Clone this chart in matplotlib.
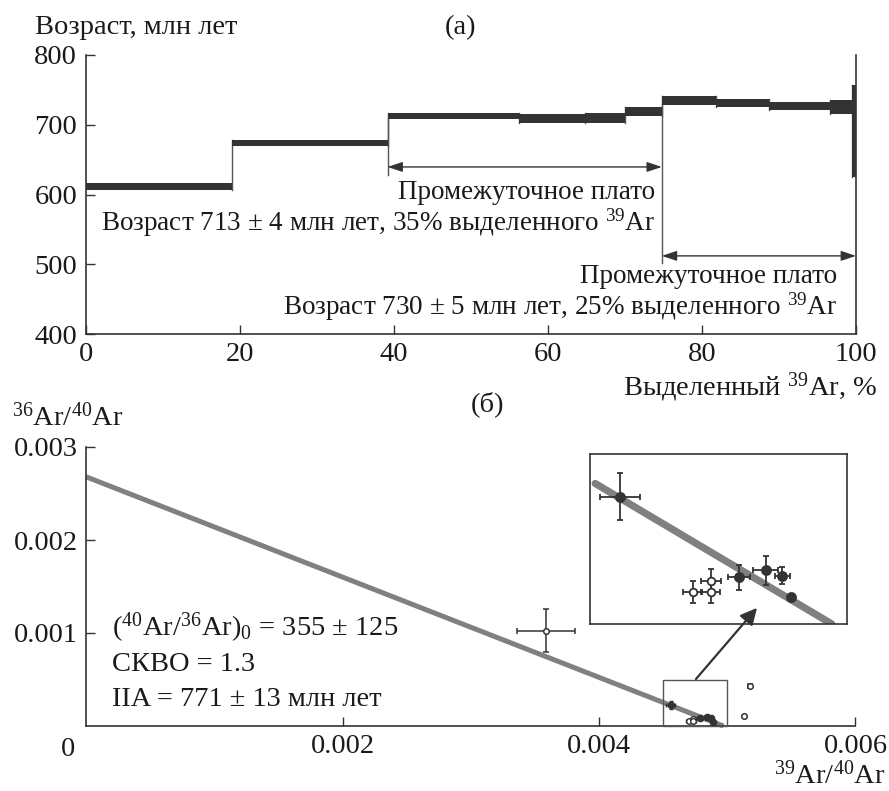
import numpy as np
import matplotlib
matplotlib.use('Agg')
import matplotlib.pyplot as plt
from matplotlib.patches import Rectangle

plt.rcParams['font.family'] = ['Liberation Serif', 'DejaVu Serif']
plt.rcParams['mathtext.fontset'] = 'custom'
plt.rcParams['mathtext.rm'] = 'Liberation Serif'
plt.rcParams['mathtext.it'] = 'Liberation Serif:italic'
plt.rcParams['mathtext.bf'] = 'Liberation Serif:bold'

# ---------------- data: (a) age spectrum ----------------
step_start = [0.0, 19.0, 39.2, 56.3, 64.8, 70.0, 74.8, 81.8, 88.7, 96.6, 99.5]
step_end = [19.0, 39.2, 56.3, 64.8, 70.0, 74.8, 81.8, 88.7, 96.6, 99.5, 100.0]
step_age = [611.5, 674.0, 712.5, 709.0, 710.0, 719.5, 735.0, 731.0, 727.0, 725.0, 691.0]
step_err = [5.0, 4.5, 4.5, 6.0, 7.5, 6.5, 6.0, 5.5, 6.0, 10.0, 66.0]

plateau1 = (39.2, 74.8)
plateau1_arrow_age = 639.5
plateau1_line_bottom = 628
plateau2 = (74.8, 100.0)
plateau2_arrow_age = 512
plateau2_line_bottom = 502

label_p1 = ["Промежуточное плато",
            "Возраст 713 ± 4 млн лет, 35% выделенного $^{39}$Ar"]
label_p2 = ["Промежуточное плато",
            "Возраст 730 ± 5 млн лет, 25% выделенного $^{39}$Ar"]

# ---------------- data: (б) isochron ----------------
line_x = [0.0, 0.00497]
line_y = [0.00268, 0.0]

other_x = [0.003585, 0.00518, 0.00513]
other_y = [0.001025, 0.000433, 0.000111]
other_xerr = [0.000224, 0.000015, 0.0]
other_yerr = [0.000228, 0.0, 0.0]

cl_x = [0.004558, 0.004700, 0.004735, 0.004735, 0.004789, 0.004842, 0.004874, 0.004890]
cl_y = [0.0002246, 0.0000570, 0.0000764, 0.0000565, 0.0000824, 0.0000948, 0.0000852, 0.0000471]
cl_xerr = [0.0000383, 0.0000185, 0.0000191, 0.0000185, 0.0000210, 0.0000243, 0.0000140, 0.0]
cl_yerr = [0.0000411, 0.0000191, 0.0000199, 0.0000191, 0.0000226, 0.0000252, 0.0000146, 0.0]
cl_filled = [True, False, False, False, True, True, True, True]

iso_text = ["($^{40}$Ar/$^{36}$Ar)$_0$ = 355 ± 125",
            "СКВО = 1.3",
            "IIA = 771 ± 13 млн лет"]

# ---------------- figure ----------------
W, H = 889, 791
fig = plt.figure(figsize=(W / 100, H / 100), dpi=100)
DARK = '#333333'
GREY = '#808080'
FS = 20.5
TFS = 20.5
AFS = 19.5


def fx(x):
    return x / W


def fy(y):
    return 1 - y / H


def ftext(x, y, s, **kw):
    kw.setdefault('fontsize', FS)
    kw.setdefault('color', '#1a1a1a')
    fig.text(fx(x), fy(y), s, **kw)


# ---- panel (a)
ax1 = fig.add_axes([fx(85.5), fy(334), (856 - 85.5) / W, (334 - 55) / H])
ax1.set_xlim(0, 100)
ax1.set_ylim(400, 800)
ax1.spines['top'].set_visible(False)
for s in ['left', 'bottom', 'right']:
    ax1.spines[s].set_linewidth(1.2)
    ax1.spines[s].set_color(DARK)
ax1.set_xticks(range(0, 101, 20))
ax1.set_yticks(range(400, 801, 100))
ax1.tick_params(direction='in', length=6.5, width=1, labelsize=TFS, pad=6,
                colors=DARK, labelcolor='#1a1a1a')
ax1.tick_params(axis='y', right=False)

widths = [e - s for s, e in zip(step_start, step_end)]
bottoms = [a - e for a, e in zip(step_age, step_err)]
heights = [2 * e for e in step_err]
ax1.bar(step_start, heights, width=widths, bottom=bottoms, align='edge',
        color=DARK, edgecolor='none', zorder=3)
# connectors between steps
for i in range(len(step_start) - 1):
    lo = min(bottoms[i], bottoms[i + 1])
    hi = max(step_age[i] + step_err[i], step_age[i + 1] + step_err[i + 1])
    ax1.plot([step_end[i], step_end[i]], [lo, hi], color='#555555', lw=1.0, zorder=2)
# plateau boundary lines
ax1.plot([plateau1[0], plateau1[0]], [plateau1_line_bottom, bottoms[2]], color='#555555', lw=1.0)
ax1.plot([plateau2[0], plateau2[0]], [plateau2_line_bottom, bottoms[6]], color='#555555', lw=1.0)

arrow_kw = dict(arrowstyle='<|-|>,head_length=0.45,head_width=0.15', color=DARK,
                lw=1.0, shrinkA=0, shrinkB=0, mutation_scale=20)
ax1.annotate('', xy=(plateau1[1], plateau1_arrow_age), xytext=(plateau1[0], plateau1_arrow_age),
             arrowprops=arrow_kw)
ax1.annotate('', xy=(plateau2[1], plateau2_arrow_age), xytext=(plateau2[0], plateau2_arrow_age),
             arrowprops=arrow_kw)

ftext(655, 199, label_p1[0], ha='right', va='baseline', fontsize=AFS)
ftext(655, 231, label_p1[1], ha='right', va='baseline', fontsize=AFS)
ftext(837, 283, label_p2[0], ha='right', va='baseline', fontsize=AFS)
ftext(837, 315, label_p2[1], ha='right', va='baseline', fontsize=AFS)

ftext(35, 34, "Возраст, млн лет", ha='left', va='baseline')
ftext(460, 34, "(а)", ha='center', va='baseline')
ftext(877, 395, "Выделенный $^{39}$Ar, %", ha='right', va='baseline')

# ---- panel (б)
ax2 = fig.add_axes([fx(86), fy(726), (855.5 - 86) / W, (726 - 447) / H])
ax2.set_xlim(0, 0.006)
ax2.set_ylim(0, 0.003)
ax2.spines['top'].set_visible(False)
ax2.spines['right'].set_visible(False)
for s in ['left', 'bottom']:
    ax2.spines[s].set_linewidth(1.2)
    ax2.spines[s].set_color(DARK)
ax2.set_xticks([0.002, 0.004, 0.006])
ax2.set_xticklabels(['0.002', '0.004', '0.006'])
ax2.set_yticks([0.001, 0.002, 0.003])
ax2.set_yticklabels(['0.001', '0.002', '0.003'])
ax2.tick_params(direction='in', length=6.5, width=1, labelsize=TFS, pad=6,
                colors=DARK, labelcolor='#1a1a1a')

ax2.plot(line_x, line_y, color=GREY, lw=3.6, solid_capstyle='butt', zorder=2, clip_on=False)

ax2.errorbar(other_x, other_y, xerr=other_xerr, yerr=other_yerr, fmt='o', ms=4,
             mfc='white', mec=DARK, mew=1.1, ecolor=DARK, elinewidth=1.1,
             capsize=2.5, capthick=1.1, zorder=4)
for x, y, xe, ye, f in zip(cl_x, cl_y, cl_xerr, cl_yerr, cl_filled):
    ax2.errorbar([x], [y], xerr=[xe], yerr=[ye], fmt='o', ms=4.5 if f else 4,
                 mfc=DARK if f else 'white', mec=DARK, mew=1.0, ecolor=DARK,
                 elinewidth=1.0, capsize=1.5, capthick=1.0, zorder=4)

ax2.add_patch(Rectangle((0.0045, 0.0), 0.0005, 0.000495, fill=False,
                        edgecolor='#555555', lw=1.0, zorder=3, clip_on=False))
ax2.annotate('', xy=(0.005232, 0.00127), xytext=(0.004756, 0.000505),
             arrowprops=dict(arrowstyle='-|>,head_length=0.5,head_width=0.25', color=DARK,
                             lw=1.6, shrinkA=0, shrinkB=0, mutation_scale=20),
             zorder=6, annotation_clip=False)

for i, s in enumerate(iso_text):
    ftext(112, 636 + i * 35, s, ha='left', va='baseline')

ftext(68, 756, "0", ha='center', va='baseline')
ftext(12, 426, "$^{36}$Ar/$^{40}$Ar", ha='left', va='baseline')
ftext(487, 411, "(б)", ha='center', va='baseline')
ftext(885, 784, "$^{39}$Ar/$^{40}$Ar", ha='right', va='baseline')

# ---- inset
ax3 = fig.add_axes([fx(590), fy(624), 257.3 / W, 170 / H])
ax3.patch.set_alpha(0)
ax3.set_xlim(0.0045, 0.005)
ax3.set_ylim(0.0, 0.0003)
ax3.set_xticks([])
ax3.set_yticks([])
for s in ax3.spines.values():
    s.set_linewidth(1.2)
    s.set_color(DARK)
ins_x = np.array([0.00451, 0.00497])
ins_y = np.interp(ins_x, line_x, line_y)
ax3.plot(ins_x, ins_y, color=GREY, lw=5.2, solid_capstyle='round', zorder=2)
for x, y, xe, ye, f in zip(cl_x, cl_y, cl_xerr, cl_yerr, cl_filled):
    ax3.errorbar([x], [y], xerr=[xe], yerr=[ye], fmt='o', ms=6.5 if f else 5.5,
                 mfc=DARK if f else 'white', mec=DARK, mew=1.3, ecolor=DARK,
                 elinewidth=1.3, capsize=2.5, capthick=1.3, zorder=4)

fig.savefig('out.png', dpi=100)
